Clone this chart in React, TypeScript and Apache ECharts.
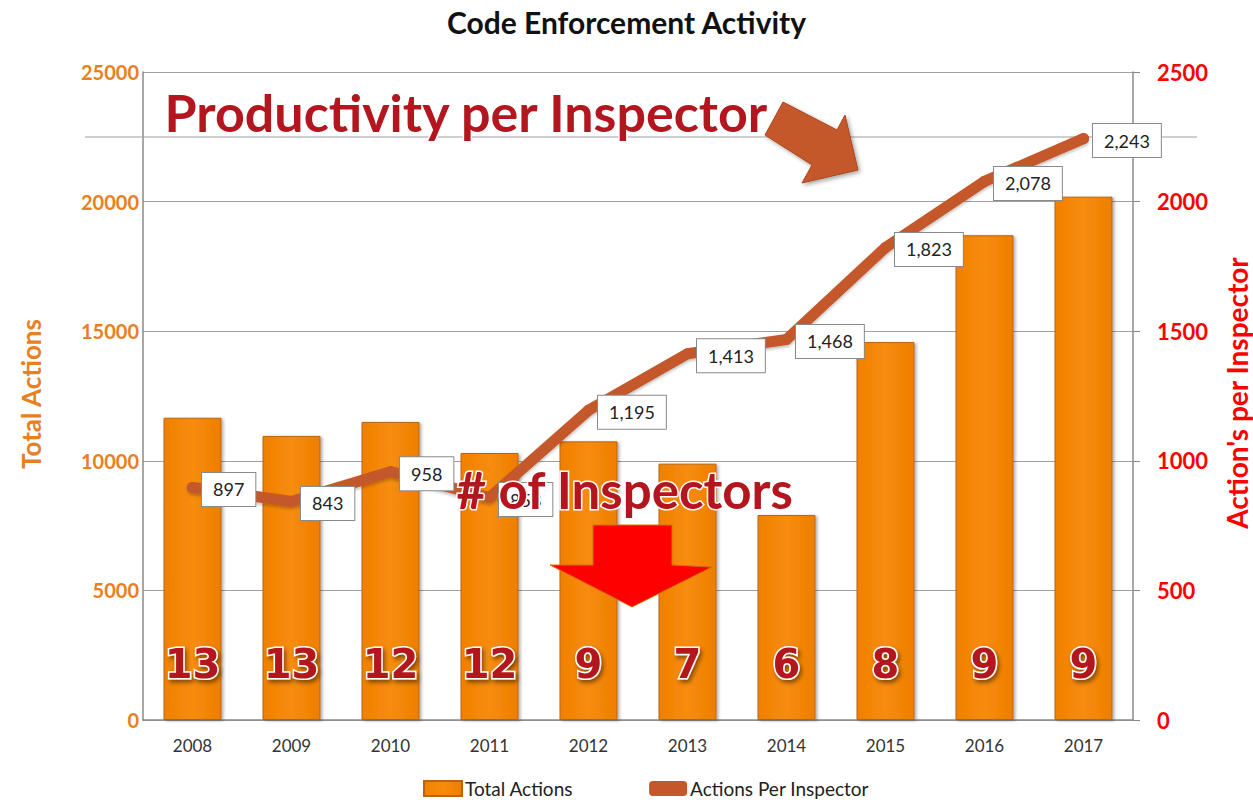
import React, { useEffect, useRef } from "react";
import * as echarts from "echarts";

const years = ["2008", "2009", "2010", "2011", "2012", "2013", "2014", "2015", "2016", "2017"];
const totalActions = [11660, 10960, 11500, 10300, 10750, 9890, 7910, 14580, 18700, 20190];
const actionsPerInspector = [897, 843, 958, 858, 1195, 1413, 1468, 1823, 2078, 2243];
const inspectors = [13, 13, 12, 12, 9, 7, 6, 8, 9, 9];
const leftTicks = { min: 0, max: 25000, interval: 5000 };
const rightTicks = { min: 0, max: 2500, interval: 500 };

const FONT = "Lato, 'Open Sans', sans-serif";

export default function App() {
  const ref = useRef<HTMLDivElement>(null);
  useEffect(() => {
    if (!ref.current) return;
    const chart = echarts.init(ref.current, null, { renderer: "svg" });
    const bigText = {
      fill: "#B3161E",
      stroke: "#ffffff",
      lineWidth: 3,
      fontWeight: "bold",
      fontFamily: FONT,
      shadowColor: "rgba(0,0,0,0.45)",
      shadowBlur: 4,
      shadowOffsetX: 2,
      shadowOffsetY: 3,
    };
    chart.setOption({
      animation: false,
      backgroundColor: "#ffffff",
      title: {
        text: "Code Enforcement Activity",
        left: "center",
        top: 2,
        textStyle: { fontFamily: FONT, fontWeight: "bold", fontSize: 30, color: "#111" },
      },
      grid: { left: 143, right: 120, top: 72, bottom: 84 },
      legend: {
        left: 418,
        top: 774,
        itemWidth: 38,
        itemHeight: 15,
        itemGap: 76,
        textStyle: { fontFamily: FONT, fontSize: 19, color: "#222", padding: [0, 0, 0, -2] },
        data: [
          { name: "Total Actions", icon: "rect" },
          { name: "Actions Per Inspector", icon: "roundRect", itemStyle: { color: "#C4582A" } },
        ],
      },
      xAxis: {
        type: "category",
        data: years,
        axisLine: { lineStyle: { color: "#8a8a8a", width: 1.5 } },
        axisTick: { show: false },
        axisLabel: { fontFamily: FONT, fontSize: 17, color: "#333", margin: 17 },
      },
      yAxis: [
        {
          type: "value",
          ...leftTicks,
          axisLine: { show: true, lineStyle: { color: "#8a8a8a", width: 1.5 } },
          axisTick: { show: false },
          splitLine: { lineStyle: { color: "#a0a0a0", width: 1.2 } },
          axisLabel: {
            fontFamily: FONT,
            fontSize: 20,
            fontWeight: "bold",
            color: "#E8801E",
            margin: 4,
            formatter: (v: number) => String(v),
          },
        },
        {
          type: "value",
          ...rightTicks,
          position: "right",
          axisLine: { show: true, lineStyle: { color: "#8a8a8a", width: 1.5 } },
          axisTick: { show: true, length: 7, lineStyle: { color: "#8a8a8a" } },
          splitLine: { show: false },
          axisLabel: {
            fontFamily: FONT,
            fontSize: 22,
            fontWeight: "bold",
            color: "#FF0000",
            margin: 24,
            formatter: (v: number) => String(v),
          },
        },
      ],
      series: [
        {
          name: "Total Actions",
          type: "bar",
          data: totalActions,
          barWidth: 58,
          z: 2,
          itemStyle: {
            color: new echarts.graphic.LinearGradient(0, 0, 1, 0, [
              { offset: 0, color: "#F08000" },
              { offset: 0.5, color: "#F78C0C" },
              { offset: 1, color: "#EE7E00" },
            ]),
            borderColor: "#B86410",
            borderWidth: 1,
            shadowColor: "rgba(0,0,0,0.3)",
            shadowBlur: 3,
            shadowOffsetX: 2,
            shadowOffsetY: 1,
          },
          label: {
            show: true,
            position: "insideBottom",
            distance: 34,
            formatter: (p: any) => String(inspectors[p.dataIndex]),
            fontFamily: "'DejaVu Sans', sans-serif",
            fontWeight: "bold",
            fontSize: 40,
            lineHeight: 44,
            color: "#B3161E",
            textBorderColor: "#ffffff",
            textBorderWidth: 3,
            textShadowColor: "rgba(0,0,0,0.45)",
            textShadowBlur: 4,
            textShadowOffsetX: 2,
            textShadowOffsetY: 3,
          },
        },
        {
          name: "Actions Per Inspector",
          type: "line",
          yAxisIndex: 1,
          data: actionsPerInspector,
          z: 5,
          symbol: "circle",
          symbolSize: 11,
          showSymbol: true,
          itemStyle: { color: "#C4582A" },
          lineStyle: {
            color: "#C4582A",
            width: 11,
            cap: "round",
            join: "round",
            shadowColor: "rgba(0,0,0,0.25)",
            shadowBlur: 3,
            shadowOffsetY: 2,
          },
          label: {
            show: true,
            position: "right",
            distance: 4,
            offset: [0, 2],
            formatter: (p: any) => Number(p.value).toLocaleString("en-US"),
            backgroundColor: "#ffffff",
            borderColor: "#8a8a8a",
            borderWidth: 1,
            padding: [8, 11, 7, 11],
            fontFamily: FONT,
            fontSize: 18,
            color: "#222",
          },
        },
      ],
      graphic: [
        {
          type: "line",
          z: 1,
          shape: { x1: 85, y1: 137, x2: 1197, y2: 137 },
          style: { stroke: "#a0a0a0", lineWidth: 1.2 },
        },
        {
          type: "text",
          z: 100,
          left: 163,
          top: 84,
          style: { ...bigText, text: "Productivity per Inspector", fontSize: 52 },
        },
        {
          type: "polygon",
          z: 100,
          shape: {
            points: [
              [783, 102], [837, 130], [845, 115], [858, 170], [802, 183], [812, 165], [765, 135],
            ],
          },
          style: {
            fill: "#C4582A",
            stroke: "#A8481E",
            lineWidth: 1,
            shadowColor: "rgba(0,0,0,0.35)",
            shadowBlur: 4,
            shadowOffsetX: 2,
            shadowOffsetY: 2,
          },
        },
        {
          type: "text",
          z: 100,
          left: 455,
          top: 462,
          style: { ...bigText, text: "# of Inspectors", fontSize: 51 },
        },
        {
          type: "polygon",
          z: 100,
          shape: {
            points: [
              [593, 525], [672, 525], [672, 565], [712, 567], [632, 607], [550, 565], [593, 565],
            ],
          },
          style: {
            fill: "#FF0000",
            stroke: "#D8700A",
            lineWidth: 1,
          },
        },
        {
          type: "text",
          z: 100,
          x: 31,
          y: 394,
          rotation: Math.PI / 2,
          style: {
            text: "Total Actions",
            fontFamily: FONT,
            fontWeight: "bold",
            fontSize: 26,
            fill: "#E8801E",
            align: "center",
            verticalAlign: "middle",
          },
        },
        {
          type: "text",
          z: 100,
          x: 1237,
          y: 393,
          rotation: Math.PI / 2,
          style: {
            text: "Action's per Inspector",
            fontFamily: FONT,
            fontWeight: "bold",
            fontSize: 28,
            fill: "#FF0000",
            align: "center",
            verticalAlign: "middle",
          },
        },
      ],
    });
    return () => chart.dispose();
  }, []);
  return (
    <div
      ref={ref}
      style={{ position: "fixed", left: 0, top: 0, width: 1253, height: 804, background: "#fff" }}
    />
  );
}
